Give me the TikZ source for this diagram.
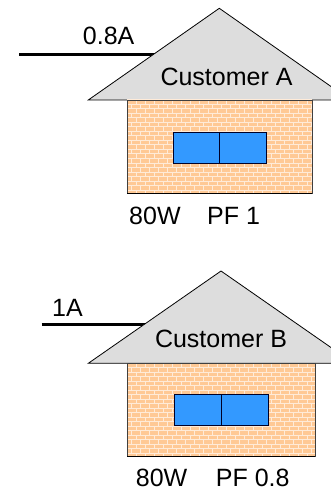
\documentclass[tikz,border=0pt]{standalone}
\usepackage{fontspec}
\setmainfont{Liberation Sans}
\definecolor{brickc}{HTML}{FFC995}
\definecolor{mortarc}{HTML}{FFEBD8}
\definecolor{roofc}{HTML}{DDDDDD}
\definecolor{winc}{HTML}{3399FF}
\tikzset{
  roofstyle/.style={fill=roofc,draw=black,line width=0.8pt,line join=miter},
  wallline/.style={draw=black!75,line width=0.9pt},
  winstyle/.style={fill=winc,draw=black!85!blue,line width=0.9pt},
  mortar/.style={draw=mortarc,line width=1pt},
  wire/.style={line width=3.5pt,draw=black},
  lbl/.style={inner sep=0pt,font=\fontsize{25}{30}\selectfont},
}
\newcommand\brickwall[4]{%
  \begin{scope}
    \clip (#1,#2) rectangle (#3,#4);
    \fill[brickc] (#1,#2) rectangle (#3,#4);
    \foreach \r in {0,...,22}{
      \pgfmathsetmacro\yy{#2+\r*4.5}
      \pgfmathsetmacro\off{mod(\r,2)*4.5}
      \draw[mortar] (#1,\yy) -- (#3,\yy);
      \foreach \k in {0,...,22}{
        \pgfmathsetmacro\xx{#1+\off+\k*9}
        \draw[mortar] (\xx,\yy) -- (\xx,\yy+4.5);
      }
    }
  \end{scope}}
\begin{document}
\begin{tikzpicture}[x=1pt,y=-1pt]
\useasboundingbox (0,0) rectangle (331,489);
\clip (0,0) rectangle (331,489);
% ---------- Customer A ----------
\coordinate (wireA) at (19,54.5);
\coordinate (wireAend) at (160,54.5);
\draw[wire] (wireA) -- (wireAend);
\coordinate (apexA) at (219.3,8.3);
\coordinate (leftA) at (88.3,100);
\coordinate (rightA) at (350.3,100);
\draw[roofstyle] (leftA) -- (apexA) -- (rightA) -- cycle;
\brickwall{127}{100}{312}{193}
\draw[wallline] (127,100) rectangle (312,193);
\draw[black,line width=1pt] (127,193) -- (312,193);
\draw[winstyle] (173,132) rectangle (266,163);
\draw[winstyle] (219.5,132) -- (219.5,163);
\node[lbl,anchor=base] (curA) at (108.7,45) {0.8A};
\node[lbl,anchor=base] (custA) at (226.5,86) {Customer A};
\node[lbl,anchor=base west] (powA) at (129,224) {80W};
\node[lbl,anchor=base west] (pfA) at (207,224) {PF 1};
% ---------- Customer B ----------
\coordinate (wireB) at (41.7,324.7);
\coordinate (wireBend) at (160,324.7);
\draw[wire] (wireB) -- (wireBend);
\coordinate (apexB) at (221,271);
\coordinate (leftB) at (88.3,363.3);
\coordinate (rightB) at (353.7,363.3);
\draw[roofstyle] (leftB) -- (apexB) -- (rightB) -- cycle;
\brickwall{127.3}{363.3}{315}{456.7}
\draw[wallline] (127.3,363.3) rectangle (315,456.7);
\draw[black,line width=1pt] (127.3,456.7) -- (315,456.7);
\draw[winstyle] (174,394.3) rectangle (268.3,425.7);
\draw[winstyle] (221.7,394.3) -- (221.7,425.7);
\node[lbl,anchor=base] (curB) at (67.5,316) {1A};
\node[lbl,anchor=base] (custB) at (221,347) {Customer B};
\node[lbl,anchor=base west] (powB) at (135.7,486) {80W};
\node[lbl,anchor=base west] (pfB) at (215.7,486) {PF 0.8};
\end{tikzpicture}
\end{document}
